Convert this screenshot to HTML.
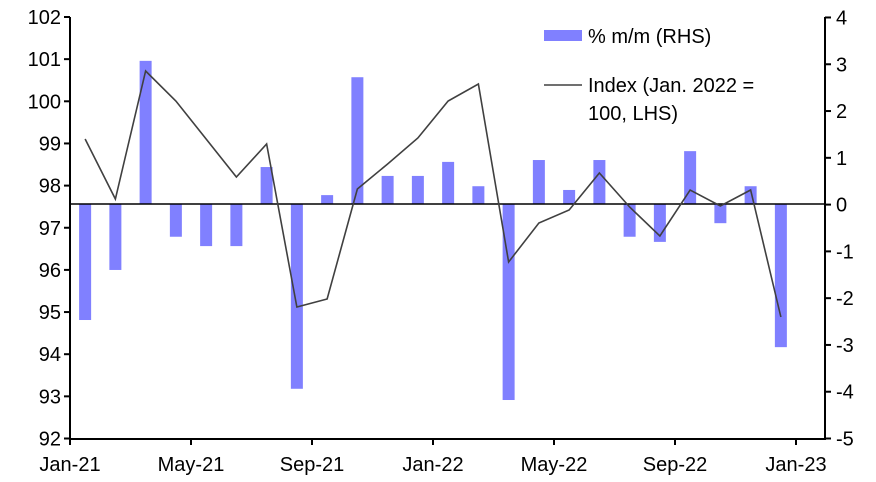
<!DOCTYPE html><html><head><style>body{margin:0;background:#fff}svg{display:block}text{font-family:"Liberation Sans",Arial,sans-serif;font-size:20px;fill:#000}</style></head><body>
<svg width="876" height="482" xmlns="http://www.w3.org/2000/svg">
<g id="bars" fill="#8080ff"></g>
<line x1="70" y1="204" x2="825" y2="204" stroke="#000" stroke-width="1.5"/>
<polyline id="ln" fill="none" stroke="#404040" stroke-width="1.6"/>
<g stroke="#000" stroke-width="2">
<line x1="70" y1="17" x2="70" y2="439"/><line x1="825" y1="17" x2="825" y2="439"/><line x1="69" y1="439" x2="826" y2="439"/>
<g id="tk"></g></g>
<g id="lab"></g>
<rect x="544" y="30" width="38" height="11" fill="#8080ff"/>
<text x="588" y="43">% m/m (RHS)</text>
<line x1="544" y1="85" x2="582" y2="85" stroke="#404040" stroke-width="1.6"/>
<text x="588" y="92">Index (Jan. 2022 =</text>
<text x="588" y="120">100, LHS)</text>
<script>
var b=[-2.48,-1.41,3.06,-0.7,-0.9,-0.9,0.79,-3.95,0.19,2.71,0.6,0.6,0.9,0.38,-4.19,0.94,0.3,0.94,-0.7,-0.81,1.13,-0.41,0.38,-3.06];
var l=[139,199,71,101,139,177,144,307,299,189,164,138,101,84,262,223,210,173,207,236,190,206,190,317];
var ns="http://www.w3.org/2000/svg",g=document.getElementById('bars'),pts=[];
function el(t,a,p){var e=document.createElementNS(ns,t);for(var k in a)e.setAttribute(k,a[k]);p.appendChild(e);return e}
for(var i=0;i<24;i++){var x=70+30.25*(i+0.5),y=204-b[i]*46.78;el('rect',{x:x-6,y:Math.min(y,204),width:12,height:Math.abs(y-204)},g);pts.push(x+','+l[i]);}
document.getElementById('ln').setAttribute('points',pts.join(' '));
var tk=document.getElementById('tk'),lab=document.getElementById('lab');
for(var v=92;v<=102;v++){var y=438.5-(v-92)*42.15;el('line',{x1:64,y1:y,x2:70,y2:y},tk);var t=el('text',{x:61,y:y+7,'text-anchor':'end'},lab);t.textContent=v;}
for(var v=-5;v<=4;v++){var y=438.5-(v+5)*46.78;el('line',{x1:825,y1:y,x2:831,y2:y},tk);var t=el('text',{x:836,y:y+7},lab);t.textContent=v;}
var xl=['Jan-21','May-21','Sep-21','Jan-22','May-22','Sep-22','Jan-23'];
for(var i=0;i<7;i++){var x=70+121*i;el('line',{x1:x,y1:439,x2:x,y2:445},tk);var t=el('text',{x:x,y:471,'text-anchor':'middle'},lab);t.textContent=xl[i];}
</script>
</svg></body></html>
